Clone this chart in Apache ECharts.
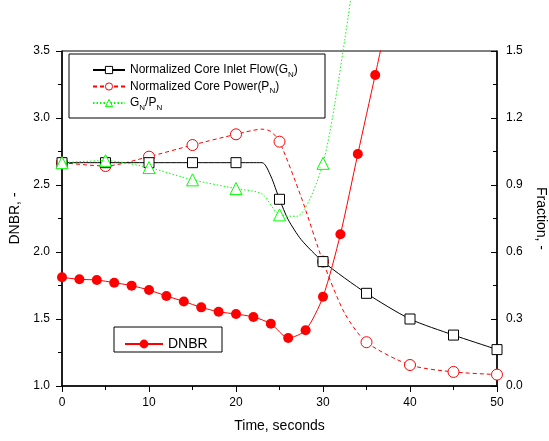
<!DOCTYPE html>
<html>
<head>
    <meta charset="UTF-8">
    <title>DNBR transient</title>
    <script src="https://cdn.jsdelivr.net/npm/echarts@6/dist/echarts.min.js"></script>
    <style>
        html, body { margin: 0; padding: 0; background: #fff; }
    </style>
</head>
<body>
    <div id="chart" style="width:549px;height:441px;"></div>
    <script type="text/javascript">
        // values; points not on a 5 s (flow/power/ratio) or 2 s (DNBR) mark carry no symbol
        var flowTime  = [0, 5, 10, 15, 20, 23, 24, 25, 26, 27.5, 30, 35, 40, 45, 50, 50.6];
        var flowVal   = [1.0, 1.0, 1.0, 1.0, 1.0, 1.0, 0.94, 0.836, 0.745, 0.655, 0.557, 0.415, 0.30, 0.228, 0.163, 0.152];
        var powerTime = [0, 5, 10, 15, 20, 23, 24, 25, 27.5, 30, 32.5, 35, 40, 45, 50, 50.6];
        var powerVal  = [1.0, 0.985, 1.027, 1.079, 1.127, 1.15, 1.14, 1.094, 0.845, 0.557, 0.325, 0.196, 0.094, 0.063, 0.051, 0.05];
        var ratioTime = [0, 5, 10, 15, 20, 23, 25, 27, 30, 32.5, 35];
        var ratioVal  = [1.0, 1.009, 0.978, 0.923, 0.884, 0.86, 0.766, 0.76, 0.997, 1.55, 2.25];
        var dnbrTime  = [0, 2, 4, 6, 8, 10, 12, 14, 16, 18, 20, 22, 24, 26, 28, 30, 32, 34, 36, 37];
        var dnbrVal   = [1.811, 1.796, 1.791, 1.771, 1.749, 1.716, 1.672, 1.631, 1.587, 1.554, 1.537, 1.515, 1.465, 1.358, 1.416, 1.666, 2.132, 2.731, 3.321, 3.62];

        var font = '"Liberation Sans", Arial, sans-serif';

        function pairs(t, v, step, last) {
            var out = [];
            for (var i = 0; i < t.length; i++) {
                var p = { value: [t[i], v[i]] };
                if (t[i] % step !== 0 || t[i] > last) p.symbol = 'none';
                out.push(p);
            }
            return out;
        }

        var myChart = echarts.init(document.getElementById('chart'));

        var option = {
            animation: false,
            backgroundColor: '#fff',
            textStyle: { fontFamily: font, color: '#000' },
            grid: { left: 62, right: 52, top: 51, bottom: 55, show: true, borderColor: '#000', borderWidth: 1,
                    outerBoundsMode: 'none', containLabel: false },
            legend: [{
                data: [
                    { name: 'flow', itemStyle: { color: '#fff', borderColor: '#000', borderWidth: 1 } },
                    { name: 'power', itemStyle: { color: '#fff', borderColor: '#ff0000', borderWidth: 1 } },
                    { name: 'ratio', itemStyle: { color: '#fff', borderColor: '#00ff00', borderWidth: 1 } }
                ],
                orient: 'vertical',
                left: 87, top: 59,
                itemWidth: 32, itemHeight: 9, itemGap: 2,
                formatter: function (name) {
                    if (name === 'flow') return '{a|Normalized Core Inlet Flow(G}{s|N}{a|)}';
                    if (name === 'power') return '{a|Normalized Core Power(P}{s|N}{a|)}';
                    return '{a|G}{s|N}{a|/P}{s|N}';
                },
                textStyle: {
                    color: '#000', fontFamily: font,
                    rich: {
                        a: { fontSize: 12, lineHeight: 14, fontFamily: font, color: '#000' },
                        s: { fontSize: 8, lineHeight: 17, verticalAlign: 'bottom', fontFamily: font, color: '#000' }
                    }
                }
            }, {
                data: ['DNBR'],
                left: 119, top: 332,
                itemWidth: 38, itemHeight: 11,
                textStyle: { fontSize: 14, color: '#000', fontFamily: font }
            }],
            graphic: [
                { type: 'rect', shape: { x: 69, y: 54, width: 256, height: 64 }, style: { fill: '#fff', stroke: '#000', lineWidth: 1 } },
                { type: 'rect', shape: { x: 114, y: 327, width: 108, height: 25 }, style: { fill: '#fff', stroke: '#000', lineWidth: 1 } }
            ],
            xAxis: {
                type: 'value', min: 0, max: 50, interval: 10,
                name: 'Time, seconds', nameLocation: 'middle', nameGap: 33,
                nameTextStyle: { fontSize: 14, color: '#000', fontFamily: font },
                axisLine: { lineStyle: { color: '#000', width: 1.5 } },
                axisTick: { length: 6, lineStyle: { color: '#000' } },
                minorTick: { show: true, splitNumber: 2, length: 4, lineStyle: { color: '#000' } },
                splitLine: { show: false },
                axisLabel: { fontSize: 12, color: '#000', margin: 11, fontFamily: font }
            },
            yAxis: [{
                type: 'value', min: 1, max: 3.5, interval: 0.5,
                name: 'DNBR, -', nameLocation: 'middle', nameGap: 35,
                nameTextStyle: { fontSize: 14, color: '#000', fontFamily: font },
                axisLine: { show: true, lineStyle: { color: '#000', width: 1.5 } },
                axisTick: { show: true, length: 6, lineStyle: { color: '#000' } },
                minorTick: { show: true, splitNumber: 2, length: 4, lineStyle: { color: '#000' } },
                splitLine: { show: false },
                axisLabel: { fontSize: 12, color: '#000', margin: 12, fontFamily: font,
                    formatter: function (v) { return v.toFixed(1); } }
            }, {
                type: 'value', position: 'right', min: 0, max: 1.5, interval: 0.3,
                name: 'Fraction, -', nameLocation: 'middle', nameGap: 36, nameRotate: -90,
                nameTextStyle: { fontSize: 14, color: '#000', fontFamily: font },
                axisLine: { show: true, lineStyle: { color: '#000', width: 1.5 } },
                axisTick: { show: true, inside: true, length: 6, lineStyle: { color: '#000' } },
                minorTick: { show: true, splitNumber: 2, length: 4, lineStyle: { color: '#000' } },
                splitLine: { show: false },
                axisLabel: { fontSize: 12, color: '#000', margin: 9, fontFamily: font,
                    formatter: function (v) { return v.toFixed(1); } }
            }],
            series: [{
                name: 'flow', type: 'line', yAxisIndex: 1, clip: false,
                smooth: 0.25,
                symbol: 'rect', symbolSize: 10,
                itemStyle: { color: '#fff', borderColor: '#000', borderWidth: 1 },
                lineStyle: { color: '#000', width: 1 },
                data: pairs(flowTime, flowVal, 5, 50), z: 3
            }, {
                name: 'power', type: 'line', yAxisIndex: 1, clip: false,
                smooth: 0.25,
                symbol: 'circle', symbolSize: 11,
                itemStyle: { color: '#fff', borderColor: '#ff0000', borderWidth: 1 },
                lineStyle: { color: '#ff0000', width: 1, type: [4, 3] },
                data: pairs(powerTime, powerVal, 5, 50), z: 2
            }, {
                name: 'ratio', type: 'line', yAxisIndex: 1, clip: false,
                smooth: 0.25,
                symbol: 'triangle', symbolSize: 12,
                itemStyle: { color: '#fff', borderColor: '#00ff00', borderWidth: 1 },
                lineStyle: { color: '#00ff00', width: 1, type: [1.5, 2] },
                data: pairs(ratioTime, ratioVal, 5, 30), z: 4
            }, {
                name: 'DNBR', type: 'line', yAxisIndex: 0, clip: true,
                smooth: 0.25,
                symbol: 'circle', symbolSize: 10,
                itemStyle: { color: '#ff0000' },
                lineStyle: { color: '#ff0000', width: 1 },
                data: pairs(dnbrTime, dnbrVal, 2, 36), z: 5
            }]
        };
        myChart.setOption(option);
    </script>
</body>
</html>
